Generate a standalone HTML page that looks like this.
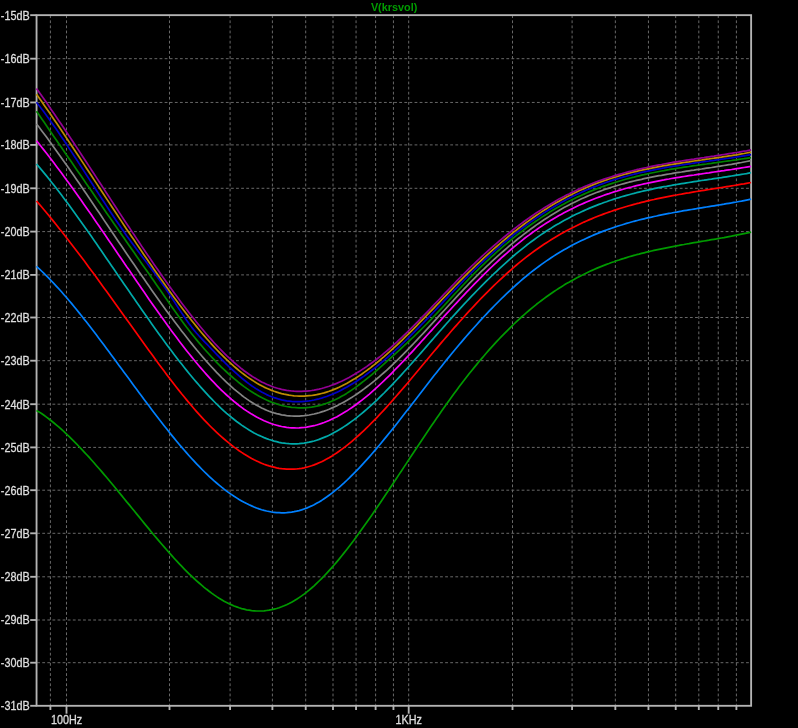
<!DOCTYPE html>
<html><head><meta charset="utf-8"><title>V(krsvol)</title>
<style>html,body{margin:0;padding:0;background:#000;overflow:hidden}svg{display:block}text{font-family:"Liberation Sans",Arial,sans-serif;font-size:12px;fill:#dedede;stroke:#dedede;stroke-width:0.3px}</style></head><body>
<svg width="798" height="728" viewBox="0 0 798 728">
<rect width="798" height="728" fill="#000"/>
<g stroke="#686868" stroke-width="1" stroke-dasharray="2.8 2.3" fill="none">
<path d="M37.15,58.68 H750.13"/>
<path d="M37.15,102.45 H750.13"/>
<path d="M37.15,144.90 H750.13"/>
<path d="M37.15,188.30 H750.13"/>
<path d="M37.15,231.60 H750.13"/>
<path d="M37.15,274.90 H750.13"/>
<path d="M37.15,317.50 H750.13"/>
<path d="M37.15,360.70 H750.13"/>
<path d="M37.15,404.20 H750.13"/>
<path d="M37.15,447.40 H750.13"/>
<path d="M37.15,490.20 H750.13"/>
<path d="M37.15,533.30 H750.13"/>
<path d="M37.15,576.80 H750.13"/>
<path d="M37.15,620.00 H750.13"/>
<path d="M37.15,662.70 H750.13"/>
<path d="M50.40,15.25 V704.80"/>
<path d="M66.50,15.25 V704.80"/>
<path d="M169.50,15.25 V704.80"/>
<path d="M230.10,15.25 V704.80"/>
<path d="M272.40,15.25 V704.80"/>
<path d="M305.70,15.25 V704.80"/>
<path d="M333.00,15.25 V704.80"/>
<path d="M356.05,15.25 V704.80"/>
<path d="M375.60,15.25 V704.80"/>
<path d="M393.45,15.25 V704.80"/>
<path d="M408.70,15.25 V704.80"/>
<path d="M512.50,15.25 V704.80"/>
<path d="M572.10,15.25 V704.80"/>
<path d="M615.35,15.25 V704.80"/>
<path d="M648.45,15.25 V704.80"/>
<path d="M675.70,15.25 V704.80"/>
<path d="M698.80,15.25 V704.80"/>
<path d="M718.25,15.25 V704.80"/>
<path d="M736.40,15.25 V704.80"/>
</g>
<g stroke="#b4b4b4" stroke-width="1.85" fill="none">
<rect x="36.55" y="15.15" width="714.58" height="690.65"/>
<path d="M30.2,15.15 H36.55"/>
<path d="M30.2,58.68 H36.55"/>
<path d="M30.2,102.45 H36.55"/>
<path d="M30.2,144.90 H36.55"/>
<path d="M30.2,188.30 H36.55"/>
<path d="M30.2,231.60 H36.55"/>
<path d="M30.2,274.90 H36.55"/>
<path d="M30.2,317.50 H36.55"/>
<path d="M30.2,360.70 H36.55"/>
<path d="M30.2,404.20 H36.55"/>
<path d="M30.2,447.40 H36.55"/>
<path d="M30.2,490.20 H36.55"/>
<path d="M30.2,533.30 H36.55"/>
<path d="M30.2,576.80 H36.55"/>
<path d="M30.2,620.00 H36.55"/>
<path d="M30.2,662.70 H36.55"/>
<path d="M30.2,705.80 H36.55"/>
<path d="M50.40,705.8 V710.00"/>
<path d="M66.50,705.8 V713.70"/>
<path d="M169.50,705.8 V710.00"/>
<path d="M230.10,705.8 V710.00"/>
<path d="M272.40,705.8 V710.00"/>
<path d="M305.70,705.8 V710.00"/>
<path d="M333.00,705.8 V710.00"/>
<path d="M356.05,705.8 V710.00"/>
<path d="M375.60,705.8 V710.00"/>
<path d="M393.45,705.8 V710.00"/>
<path d="M408.70,705.8 V713.70"/>
<path d="M512.50,705.8 V710.00"/>
<path d="M572.10,705.8 V710.00"/>
<path d="M615.35,705.8 V710.00"/>
<path d="M648.45,705.8 V710.00"/>
<path d="M675.70,705.8 V710.00"/>
<path d="M698.80,705.8 V710.00"/>
<path d="M718.25,705.8 V710.00"/>
<path d="M736.40,705.8 V710.00"/>
</g>
<g fill="none" stroke-width="1.7" stroke-linejoin="round">
<path stroke="#009a00" d="M36.5,410.5 L39.0,411.9 L41.5,413.5 L44.0,415.3 L46.5,417.1 L49.0,419.0 L51.5,421.0 L54.0,423.0 L56.5,425.1 L59.0,427.2 L61.5,429.4 L64.0,431.7 L66.5,434.1 L69.0,436.4 L71.5,438.9 L74.0,441.4 L76.5,443.9 L79.0,446.5 L81.5,449.1 L84.0,451.8 L86.5,454.5 L89.0,457.2 L91.5,460.0 L94.0,462.8 L96.5,465.7 L99.0,468.5 L101.5,471.4 L104.0,474.4 L106.5,477.3 L109.0,480.3 L111.5,483.3 L114.0,486.3 L116.5,489.3 L119.0,492.4 L121.5,495.4 L124.0,498.5 L126.5,501.6 L129.1,504.6 L131.6,507.7 L134.1,510.8 L136.6,513.9 L139.1,516.9 L141.6,520.0 L144.1,523.1 L146.6,526.1 L149.1,529.1 L151.6,532.2 L154.1,535.2 L156.6,538.1 L159.1,541.1 L161.6,544.0 L164.1,546.9 L166.6,549.8 L169.1,552.6 L171.6,555.4 L174.1,558.2 L176.6,560.9 L179.1,563.6 L181.6,566.2 L184.1,568.8 L186.6,571.3 L189.1,573.8 L191.6,576.2 L194.1,578.5 L196.6,580.8 L199.1,583.0 L201.6,585.2 L204.1,587.3 L206.6,589.3 L209.1,591.2 L211.6,593.1 L214.1,594.9 L216.6,596.6 L219.1,598.2 L221.6,599.7 L224.1,601.2 L226.6,602.5 L229.1,603.8 L231.6,604.9 L234.1,606.0 L236.6,606.9 L239.1,607.8 L241.6,608.6 L244.1,609.2 L246.6,609.8 L249.1,610.2 L251.6,610.6 L254.1,610.8 L256.6,611.0 L259.1,611.0 L261.6,611.0 L264.1,610.8 L266.6,610.5 L269.1,610.2 L271.6,609.7 L274.1,609.1 L276.6,608.5 L279.1,607.7 L281.6,606.8 L284.1,605.8 L286.6,604.7 L289.1,603.5 L291.6,602.2 L294.1,600.8 L296.6,599.3 L299.1,597.6 L301.6,595.9 L304.1,594.1 L306.6,592.1 L309.1,590.1 L311.6,588.0 L314.1,585.8 L316.6,583.4 L319.1,581.0 L321.6,578.6 L324.1,576.0 L326.6,573.4 L329.1,570.6 L331.6,567.9 L334.1,565.0 L336.6,562.1 L339.1,559.1 L341.6,556.0 L344.1,552.9 L346.6,549.7 L349.1,546.5 L351.6,543.2 L354.1,539.9 L356.6,536.5 L359.1,533.1 L361.6,529.6 L364.1,526.1 L366.6,522.6 L369.1,519.0 L371.6,515.4 L374.1,511.8 L376.6,508.1 L379.1,504.4 L381.6,500.7 L384.1,497.0 L386.6,493.3 L389.1,489.5 L391.6,485.8 L394.1,482.0 L396.6,478.2 L399.1,474.4 L401.6,470.7 L404.1,466.9 L406.6,463.1 L409.1,459.3 L411.6,455.5 L414.1,451.7 L416.6,448.0 L419.1,444.2 L421.6,440.5 L424.1,436.7 L426.6,433.0 L429.1,429.3 L431.6,425.6 L434.1,422.0 L436.6,418.3 L439.1,414.7 L441.6,411.1 L444.1,407.5 L446.6,404.0 L449.1,400.5 L451.6,397.0 L454.1,393.6 L456.6,390.2 L459.1,386.8 L461.6,383.5 L464.1,380.3 L466.6,377.0 L469.1,373.8 L471.6,370.7 L474.1,367.6 L476.6,364.6 L479.1,361.5 L481.6,358.6 L484.1,355.7 L486.6,352.8 L489.1,349.9 L491.6,347.1 L494.1,344.4 L496.6,341.7 L499.1,339.0 L501.6,336.4 L504.1,333.8 L506.6,331.3 L509.1,328.8 L511.6,326.4 L514.0,324.0 L516.5,321.6 L519.0,319.3 L521.5,317.0 L524.0,314.8 L526.5,312.6 L529.0,310.5 L531.5,308.4 L534.0,306.3 L536.5,304.3 L539.0,302.4 L541.5,300.5 L544.0,298.6 L546.5,296.8 L549.0,295.0 L551.5,293.2 L554.0,291.5 L556.5,289.9 L559.0,288.2 L561.5,286.7 L564.0,285.1 L566.5,283.6 L569.0,282.2 L571.5,280.7 L574.0,279.4 L576.5,278.0 L579.0,276.7 L581.5,275.4 L584.0,274.2 L586.5,273.0 L589.0,271.8 L591.5,270.6 L594.0,269.5 L596.5,268.4 L599.0,267.4 L601.5,266.4 L604.0,265.4 L606.5,264.4 L609.0,263.5 L611.5,262.5 L614.0,261.7 L616.5,260.8 L619.0,260.0 L621.5,259.1 L624.0,258.4 L626.5,257.6 L629.0,256.8 L631.5,256.1 L634.0,255.4 L636.5,254.7 L639.0,254.1 L641.5,253.4 L644.0,252.8 L646.5,252.2 L649.0,251.6 L651.5,251.0 L654.0,250.4 L656.5,249.8 L659.0,249.3 L661.5,248.8 L664.0,248.3 L666.5,247.8 L669.0,247.3 L671.5,246.8 L674.0,246.3 L676.5,245.8 L679.0,245.4 L681.5,244.9 L684.0,244.5 L686.5,244.0 L689.0,243.6 L691.5,243.1 L694.0,242.7 L696.5,242.3 L699.0,241.9 L701.5,241.4 L704.0,241.0 L706.5,240.6 L709.0,240.2 L711.5,239.7 L714.0,239.3 L716.5,238.9 L719.0,238.4 L721.5,238.0 L724.0,237.6 L726.5,237.1 L729.0,236.6 L731.5,236.2 L734.0,235.7 L736.5,235.2 L739.0,234.7 L741.5,234.2 L744.0,233.7 L746.5,233.2 L751.1,232.2"/>
<path stroke="#0080ff" d="M36.5,266.4 L39.0,268.6 L41.5,271.0 L44.0,273.4 L46.5,275.9 L49.0,278.4 L51.5,281.0 L54.0,283.6 L56.5,286.3 L59.0,289.0 L61.5,291.8 L64.0,294.7 L66.5,297.5 L69.0,300.5 L71.5,303.4 L74.0,306.5 L76.5,309.5 L79.0,312.6 L81.5,315.7 L84.0,318.9 L86.5,322.1 L89.0,325.3 L91.5,328.5 L94.0,331.8 L96.5,335.1 L99.0,338.4 L101.5,341.7 L104.0,345.0 L106.5,348.4 L109.0,351.8 L111.5,355.2 L114.0,358.6 L116.5,362.0 L119.0,365.4 L121.5,368.8 L124.0,372.2 L126.5,375.6 L129.1,379.0 L131.6,382.5 L134.1,385.9 L136.6,389.3 L139.1,392.7 L141.6,396.0 L144.1,399.4 L146.6,402.8 L149.1,406.1 L151.6,409.4 L154.1,412.7 L156.6,416.0 L159.1,419.2 L161.6,422.5 L164.1,425.7 L166.6,428.8 L169.1,432.0 L171.6,435.1 L174.1,438.1 L176.6,441.2 L179.1,444.2 L181.6,447.1 L184.1,450.0 L186.6,452.9 L189.1,455.7 L191.6,458.5 L194.1,461.2 L196.6,463.8 L199.1,466.4 L201.6,469.0 L204.1,471.5 L206.6,473.9 L209.1,476.3 L211.6,478.6 L214.1,480.9 L216.6,483.0 L219.1,485.1 L221.6,487.2 L224.1,489.2 L226.6,491.1 L229.1,492.9 L231.6,494.6 L234.1,496.3 L236.6,497.9 L239.1,499.5 L241.6,500.9 L244.1,502.3 L246.6,503.6 L249.1,504.8 L251.6,505.9 L254.1,507.0 L256.6,508.0 L259.1,508.9 L261.6,509.7 L264.1,510.4 L266.6,511.0 L269.1,511.5 L271.6,512.0 L274.1,512.3 L276.6,512.6 L279.1,512.7 L281.6,512.8 L284.1,512.8 L286.6,512.7 L289.1,512.4 L291.6,512.1 L294.1,511.7 L296.6,511.2 L299.1,510.6 L301.6,509.9 L304.1,509.0 L306.6,508.1 L309.1,507.0 L311.6,505.9 L314.1,504.7 L316.6,503.3 L319.1,501.9 L321.6,500.4 L324.1,498.7 L326.6,497.0 L329.1,495.2 L331.6,493.4 L334.1,491.4 L336.6,489.4 L339.1,487.3 L341.6,485.1 L344.1,482.9 L346.6,480.5 L349.1,478.2 L351.6,475.7 L354.1,473.2 L356.6,470.7 L359.1,468.1 L361.6,465.4 L364.1,462.7 L366.6,459.9 L369.1,457.1 L371.6,454.3 L374.1,451.4 L376.6,448.4 L379.1,445.5 L381.6,442.5 L384.1,439.4 L386.6,436.4 L389.1,433.3 L391.6,430.2 L394.1,427.1 L396.6,423.9 L399.1,420.7 L401.6,417.5 L404.1,414.3 L406.6,411.1 L409.1,407.9 L411.6,404.7 L414.1,401.4 L416.6,398.2 L419.1,395.0 L421.6,391.7 L424.1,388.5 L426.6,385.3 L429.1,382.0 L431.6,378.8 L434.1,375.6 L436.6,372.5 L439.1,369.3 L441.6,366.2 L444.1,363.0 L446.6,359.9 L449.1,356.9 L451.6,353.8 L454.1,350.8 L456.6,347.8 L459.1,344.8 L461.6,341.9 L464.1,338.9 L466.6,336.0 L469.1,333.1 L471.6,330.3 L474.1,327.5 L476.6,324.7 L479.1,321.9 L481.6,319.2 L484.1,316.5 L486.6,313.8 L489.1,311.2 L491.6,308.6 L494.1,306.0 L496.6,303.5 L499.1,301.0 L501.6,298.5 L504.1,296.1 L506.6,293.7 L509.1,291.4 L511.6,289.0 L514.0,286.8 L516.5,284.5 L519.0,282.3 L521.5,280.2 L524.0,278.0 L526.5,276.0 L529.0,273.9 L531.5,271.9 L534.0,270.0 L536.5,268.1 L539.0,266.2 L541.5,264.4 L544.0,262.6 L546.5,260.9 L549.0,259.2 L551.5,257.5 L554.0,255.9 L556.5,254.3 L559.0,252.8 L561.5,251.3 L564.0,249.8 L566.5,248.4 L569.0,247.0 L571.5,245.6 L574.0,244.3 L576.5,243.0 L579.0,241.8 L581.5,240.6 L584.0,239.4 L586.5,238.2 L589.0,237.1 L591.5,236.0 L594.0,234.9 L596.5,233.9 L599.0,232.9 L601.5,231.9 L604.0,230.9 L606.5,230.0 L609.0,229.1 L611.5,228.2 L614.0,227.4 L616.5,226.5 L619.0,225.7 L621.5,225.0 L624.0,224.2 L626.5,223.4 L629.0,222.7 L631.5,222.0 L634.0,221.3 L636.5,220.7 L639.0,220.0 L641.5,219.4 L644.0,218.8 L646.5,218.2 L649.0,217.6 L651.5,217.1 L654.0,216.5 L656.5,216.0 L659.0,215.4 L661.5,214.9 L664.0,214.4 L666.5,213.9 L669.0,213.4 L671.5,213.0 L674.0,212.5 L676.5,212.1 L679.0,211.6 L681.5,211.2 L684.0,210.7 L686.5,210.3 L689.0,209.9 L691.5,209.5 L694.0,209.1 L696.5,208.7 L699.0,208.2 L701.5,207.8 L704.0,207.4 L706.5,207.0 L709.0,206.6 L711.5,206.2 L714.0,205.8 L716.5,205.4 L719.0,205.0 L721.5,204.6 L724.0,204.2 L726.5,203.7 L729.0,203.3 L731.5,202.9 L734.0,202.4 L736.5,202.0 L739.0,201.5 L741.5,201.1 L744.0,200.6 L746.5,200.1 L751.1,199.2"/>
<path stroke="#ff0000" d="M36.5,201.0 L39.0,203.9 L41.5,206.8 L44.0,209.8 L46.5,212.8 L49.0,215.8 L51.5,218.9 L54.0,221.9 L56.5,225.0 L59.0,228.2 L61.5,231.3 L64.0,234.5 L66.5,237.7 L69.0,240.9 L71.5,244.2 L74.0,247.4 L76.5,250.7 L79.0,254.0 L81.5,257.3 L84.0,260.6 L86.5,264.0 L89.0,267.4 L91.5,270.7 L94.0,274.1 L96.5,277.6 L99.0,281.0 L101.5,284.4 L104.0,287.9 L106.5,291.3 L109.0,294.8 L111.5,298.2 L114.0,301.7 L116.5,305.2 L119.0,308.7 L121.5,312.2 L124.0,315.7 L126.5,319.2 L129.1,322.7 L131.6,326.2 L134.1,329.7 L136.6,333.2 L139.1,336.7 L141.6,340.2 L144.1,343.7 L146.6,347.2 L149.1,350.7 L151.6,354.1 L154.1,357.6 L156.6,361.0 L159.1,364.4 L161.6,367.8 L164.1,371.1 L166.6,374.5 L169.1,377.8 L171.6,381.0 L174.1,384.3 L176.6,387.5 L179.1,390.6 L181.6,393.8 L184.1,396.8 L186.6,399.9 L189.1,402.9 L191.6,405.8 L194.1,408.7 L196.6,411.6 L199.1,414.4 L201.6,417.1 L204.1,419.8 L206.6,422.4 L209.1,425.0 L211.6,427.5 L214.1,429.9 L216.6,432.3 L219.1,434.6 L221.6,436.8 L224.1,439.0 L226.6,441.1 L229.1,443.2 L231.6,445.2 L234.1,447.1 L236.6,448.9 L239.1,450.7 L241.6,452.4 L244.1,454.0 L246.6,455.5 L249.1,457.0 L251.6,458.4 L254.1,459.7 L256.6,460.9 L259.1,462.1 L261.6,463.2 L264.1,464.2 L266.6,465.1 L269.1,465.9 L271.6,466.6 L274.1,467.2 L276.6,467.8 L279.1,468.3 L281.6,468.7 L284.1,468.9 L286.6,469.1 L289.1,469.2 L291.6,469.2 L294.1,469.1 L296.6,469.0 L299.1,468.7 L301.6,468.3 L304.1,467.8 L306.6,467.2 L309.1,466.5 L311.6,465.8 L314.1,464.9 L316.6,463.9 L319.1,462.8 L321.6,461.7 L324.1,460.4 L326.6,459.1 L329.1,457.7 L331.6,456.2 L334.1,454.6 L336.6,453.0 L339.1,451.2 L341.6,449.4 L344.1,447.6 L346.6,445.6 L349.1,443.6 L351.6,441.6 L354.1,439.4 L356.6,437.2 L359.1,435.0 L361.6,432.7 L364.1,430.3 L366.6,427.9 L369.1,425.5 L371.6,422.9 L374.1,420.4 L376.6,417.8 L379.1,415.2 L381.6,412.5 L384.1,409.8 L386.6,407.1 L389.1,404.3 L391.6,401.5 L394.1,398.6 L396.6,395.8 L399.1,392.9 L401.6,390.0 L404.1,387.1 L406.6,384.2 L409.1,381.2 L411.6,378.2 L414.1,375.3 L416.6,372.3 L419.1,369.3 L421.6,366.3 L424.1,363.3 L426.6,360.3 L429.1,357.3 L431.6,354.3 L434.1,351.3 L436.6,348.4 L439.1,345.4 L441.6,342.4 L444.1,339.5 L446.6,336.6 L449.1,333.7 L451.6,330.8 L454.1,327.9 L456.6,325.1 L459.1,322.3 L461.6,319.5 L464.1,316.7 L466.6,313.9 L469.1,311.2 L471.6,308.5 L474.1,305.8 L476.6,303.2 L479.1,300.5 L481.6,297.9 L484.1,295.4 L486.6,292.8 L489.1,290.3 L491.6,287.9 L494.1,285.4 L496.6,283.0 L499.1,280.6 L501.6,278.3 L504.1,276.0 L506.6,273.7 L509.1,271.5 L511.6,269.3 L514.0,267.1 L516.5,265.0 L519.0,262.9 L521.5,260.9 L524.0,258.9 L526.5,256.9 L529.0,255.0 L531.5,253.1 L534.0,251.3 L536.5,249.5 L539.0,247.7 L541.5,246.0 L544.0,244.3 L546.5,242.7 L549.0,241.1 L551.5,239.5 L554.0,238.0 L556.5,236.5 L559.0,235.0 L561.5,233.6 L564.0,232.2 L566.5,230.8 L569.0,229.5 L571.5,228.2 L574.0,226.9 L576.5,225.7 L579.0,224.5 L581.5,223.3 L584.0,222.1 L586.5,221.0 L589.0,219.9 L591.5,218.9 L594.0,217.8 L596.5,216.8 L599.0,215.8 L601.5,214.9 L604.0,213.9 L606.5,213.0 L609.0,212.1 L611.5,211.3 L614.0,210.4 L616.5,209.6 L619.0,208.8 L621.5,208.0 L624.0,207.2 L626.5,206.5 L629.0,205.8 L631.5,205.1 L634.0,204.4 L636.5,203.7 L639.0,203.1 L641.5,202.4 L644.0,201.8 L646.5,201.2 L649.0,200.6 L651.5,200.0 L654.0,199.5 L656.5,198.9 L659.0,198.4 L661.5,197.9 L664.0,197.4 L666.5,196.9 L669.0,196.4 L671.5,195.9 L674.0,195.4 L676.5,195.0 L679.0,194.5 L681.5,194.1 L684.0,193.6 L686.5,193.2 L689.0,192.8 L691.5,192.3 L694.0,191.9 L696.5,191.5 L699.0,191.1 L701.5,190.7 L704.0,190.3 L706.5,189.9 L709.0,189.5 L711.5,189.1 L714.0,188.7 L716.5,188.3 L719.0,187.9 L721.5,187.5 L724.0,187.1 L726.5,186.7 L729.0,186.3 L731.5,185.9 L734.0,185.5 L736.5,185.1 L739.0,184.6 L741.5,184.2 L744.0,183.8 L746.5,183.3 L751.1,182.5"/>
<path stroke="#00aaaa" d="M36.5,164.0 L39.0,166.9 L41.5,169.9 L44.0,172.9 L46.5,175.9 L49.0,179.0 L51.5,182.2 L54.0,185.3 L56.5,188.6 L59.0,191.8 L61.5,195.1 L64.0,198.4 L66.5,201.8 L69.0,205.1 L71.5,208.5 L74.0,212.0 L76.5,215.4 L79.0,218.9 L81.5,222.4 L84.0,225.9 L86.5,229.5 L89.0,233.0 L91.5,236.6 L94.0,240.2 L96.5,243.8 L99.0,247.4 L101.5,251.1 L104.0,254.7 L106.5,258.4 L109.0,262.0 L111.5,265.7 L114.0,269.3 L116.5,273.0 L119.0,276.7 L121.5,280.3 L124.0,284.0 L126.5,287.6 L129.1,291.3 L131.6,294.9 L134.1,298.6 L136.6,302.2 L139.1,305.8 L141.6,309.4 L144.1,313.0 L146.6,316.6 L149.1,320.1 L151.6,323.7 L154.1,327.2 L156.6,330.7 L159.1,334.2 L161.6,337.6 L164.1,341.0 L166.6,344.4 L169.1,347.8 L171.6,351.1 L174.1,354.4 L176.6,357.7 L179.1,360.9 L181.6,364.1 L184.1,367.3 L186.6,370.4 L189.1,373.5 L191.6,376.5 L194.1,379.5 L196.6,382.4 L199.1,385.3 L201.6,388.1 L204.1,390.9 L206.6,393.6 L209.1,396.3 L211.6,398.9 L214.1,401.5 L216.6,404.0 L219.1,406.4 L221.6,408.8 L224.1,411.1 L226.6,413.3 L229.1,415.4 L231.6,417.5 L234.1,419.5 L236.6,421.5 L239.1,423.3 L241.6,425.1 L244.1,426.8 L246.6,428.4 L249.1,430.0 L251.6,431.5 L254.1,432.9 L256.6,434.2 L259.1,435.4 L261.6,436.5 L264.1,437.6 L266.6,438.6 L269.1,439.5 L271.6,440.3 L274.1,441.1 L276.6,441.7 L279.1,442.3 L281.6,442.8 L284.1,443.1 L286.6,443.5 L289.1,443.7 L291.6,443.8 L294.1,443.9 L296.6,443.8 L299.1,443.7 L301.6,443.4 L304.1,443.1 L306.6,442.7 L309.1,442.2 L311.6,441.6 L314.1,441.0 L316.6,440.2 L319.1,439.4 L321.6,438.4 L324.1,437.4 L326.6,436.4 L329.1,435.2 L331.6,433.9 L334.1,432.6 L336.6,431.2 L339.1,429.8 L341.6,428.2 L344.1,426.6 L346.6,425.0 L349.1,423.2 L351.6,421.4 L354.1,419.6 L356.6,417.7 L359.1,415.7 L361.6,413.6 L364.1,411.5 L366.6,409.4 L369.1,407.2 L371.6,404.9 L374.1,402.6 L376.6,400.3 L379.1,397.9 L381.6,395.4 L384.1,393.0 L386.6,390.4 L389.1,387.9 L391.6,385.3 L394.1,382.6 L396.6,380.0 L399.1,377.3 L401.6,374.6 L404.1,371.8 L406.6,369.1 L409.1,366.3 L411.6,363.5 L414.1,360.6 L416.6,357.8 L419.1,355.0 L421.6,352.1 L424.1,349.2 L426.6,346.4 L429.1,343.5 L431.6,340.6 L434.1,337.8 L436.6,334.9 L439.1,332.0 L441.6,329.2 L444.1,326.4 L446.6,323.5 L449.1,320.7 L451.6,317.9 L454.1,315.1 L456.6,312.4 L459.1,309.6 L461.6,306.9 L464.1,304.2 L466.6,301.5 L469.1,298.9 L471.6,296.2 L474.1,293.6 L476.6,291.0 L479.1,288.5 L481.6,285.9 L484.1,283.4 L486.6,280.9 L489.1,278.5 L491.6,276.0 L494.1,273.6 L496.6,271.3 L499.1,268.9 L501.6,266.6 L504.1,264.3 L506.6,262.1 L509.1,259.9 L511.6,257.7 L514.0,255.5 L516.5,253.4 L519.0,251.3 L521.5,249.3 L524.0,247.3 L526.5,245.3 L529.0,243.4 L531.5,241.5 L534.0,239.7 L536.5,237.9 L539.0,236.1 L541.5,234.4 L544.0,232.7 L546.5,231.0 L549.0,229.4 L551.5,227.9 L554.0,226.3 L556.5,224.8 L559.0,223.4 L561.5,221.9 L564.0,220.5 L566.5,219.2 L569.0,217.9 L571.5,216.6 L574.0,215.3 L576.5,214.1 L579.0,212.9 L581.5,211.7 L584.0,210.6 L586.5,209.5 L589.0,208.4 L591.5,207.4 L594.0,206.4 L596.5,205.4 L599.0,204.4 L601.5,203.5 L604.0,202.5 L606.5,201.7 L609.0,200.8 L611.5,200.0 L614.0,199.1 L616.5,198.3 L619.0,197.6 L621.5,196.8 L624.0,196.1 L626.5,195.4 L629.0,194.7 L631.5,194.0 L634.0,193.4 L636.5,192.7 L639.0,192.1 L641.5,191.5 L644.0,190.9 L646.5,190.3 L649.0,189.8 L651.5,189.3 L654.0,188.7 L656.5,188.2 L659.0,187.7 L661.5,187.2 L664.0,186.7 L666.5,186.3 L669.0,185.8 L671.5,185.4 L674.0,184.9 L676.5,184.5 L679.0,184.1 L681.5,183.7 L684.0,183.3 L686.5,182.9 L689.0,182.5 L691.5,182.1 L694.0,181.7 L696.5,181.3 L699.0,180.9 L701.5,180.5 L704.0,180.2 L706.5,179.8 L709.0,179.4 L711.5,179.1 L714.0,178.7 L716.5,178.3 L719.0,177.9 L721.5,177.6 L724.0,177.2 L726.5,176.8 L729.0,176.4 L731.5,176.0 L734.0,175.6 L736.5,175.2 L739.0,174.8 L741.5,174.4 L744.0,174.0 L746.5,173.6 L751.1,172.7"/>
<path stroke="#f800f8" d="M36.5,140.8 L39.0,143.8 L41.5,147.0 L44.0,150.1 L46.5,153.3 L49.0,156.5 L51.5,159.8 L54.0,163.1 L56.5,166.4 L59.0,169.7 L61.5,173.1 L64.0,176.5 L66.5,179.9 L69.0,183.3 L71.5,186.8 L74.0,190.3 L76.5,193.8 L79.0,197.3 L81.5,200.8 L84.0,204.4 L86.5,208.0 L89.0,211.5 L91.5,215.1 L94.0,218.8 L96.5,222.4 L99.0,226.0 L101.5,229.7 L104.0,233.3 L106.5,237.0 L109.0,240.7 L111.5,244.3 L114.0,248.0 L116.5,251.7 L119.0,255.4 L121.5,259.1 L124.0,262.8 L126.5,266.5 L129.1,270.1 L131.6,273.8 L134.1,277.5 L136.6,281.2 L139.1,284.8 L141.6,288.5 L144.1,292.1 L146.6,295.7 L149.1,299.4 L151.6,302.9 L154.1,306.5 L156.6,310.1 L159.1,313.6 L161.6,317.1 L164.1,320.6 L166.6,324.1 L169.1,327.5 L171.6,330.9 L174.1,334.3 L176.6,337.6 L179.1,340.9 L181.6,344.2 L184.1,347.5 L186.6,350.7 L189.1,353.8 L191.6,356.9 L194.1,360.0 L196.6,363.0 L199.1,366.0 L201.6,368.9 L204.1,371.8 L206.6,374.6 L209.1,377.4 L211.6,380.1 L214.1,382.7 L216.6,385.3 L219.1,387.8 L221.6,390.3 L224.1,392.7 L226.6,395.0 L229.1,397.2 L231.6,399.4 L234.1,401.5 L236.6,403.5 L239.1,405.5 L241.6,407.4 L244.1,409.2 L246.6,410.9 L249.1,412.5 L251.6,414.1 L254.1,415.6 L256.6,417.0 L259.1,418.3 L261.6,419.5 L264.1,420.7 L266.6,421.8 L269.1,422.8 L271.6,423.7 L274.1,424.5 L276.6,425.2 L279.1,425.9 L281.6,426.5 L284.1,426.9 L286.6,427.3 L289.1,427.6 L291.6,427.8 L294.1,427.9 L296.6,428.0 L299.1,427.9 L301.6,427.7 L304.1,427.5 L306.6,427.2 L309.1,426.7 L311.6,426.2 L314.1,425.7 L316.6,425.0 L319.1,424.2 L321.6,423.4 L324.1,422.5 L326.6,421.5 L329.1,420.5 L331.6,419.3 L334.1,418.1 L336.6,416.9 L339.1,415.5 L341.6,414.1 L344.1,412.6 L346.6,411.1 L349.1,409.4 L351.6,407.8 L354.1,406.0 L356.6,404.2 L359.1,402.3 L361.6,400.4 L364.1,398.4 L366.6,396.4 L369.1,394.3 L371.6,392.1 L374.1,389.9 L376.6,387.7 L379.1,385.4 L381.6,383.0 L384.1,380.6 L386.6,378.2 L389.1,375.8 L391.6,373.3 L394.1,370.7 L396.6,368.2 L399.1,365.6 L401.6,363.0 L404.1,360.3 L406.6,357.7 L409.1,355.0 L411.6,352.3 L414.1,349.6 L416.6,346.8 L419.1,344.1 L421.6,341.3 L424.1,338.6 L426.6,335.8 L429.1,333.0 L431.6,330.3 L434.1,327.5 L436.6,324.7 L439.1,322.0 L441.6,319.2 L444.1,316.4 L446.6,313.7 L449.1,311.0 L451.6,308.2 L454.1,305.5 L456.6,302.8 L459.1,300.1 L461.6,297.5 L464.1,294.8 L466.6,292.2 L469.1,289.6 L471.6,287.0 L474.1,284.4 L476.6,281.8 L479.1,279.3 L481.6,276.8 L484.1,274.3 L486.6,271.9 L489.1,269.4 L491.6,267.0 L494.1,264.7 L496.6,262.3 L499.1,260.0 L501.6,257.7 L504.1,255.5 L506.6,253.3 L509.1,251.1 L511.6,249.0 L514.0,246.9 L516.5,244.8 L519.0,242.8 L521.5,240.8 L524.0,238.8 L526.5,236.9 L529.0,235.1 L531.5,233.2 L534.0,231.4 L536.5,229.7 L539.0,227.9 L541.5,226.3 L544.0,224.6 L546.5,223.0 L549.0,221.5 L551.5,219.9 L554.0,218.4 L556.5,217.0 L559.0,215.5 L561.5,214.2 L564.0,212.8 L566.5,211.5 L569.0,210.2 L571.5,208.9 L574.0,207.7 L576.5,206.5 L579.0,205.3 L581.5,204.2 L584.0,203.1 L586.5,202.0 L589.0,201.0 L591.5,200.0 L594.0,199.0 L596.5,198.0 L599.0,197.1 L601.5,196.2 L604.0,195.3 L606.5,194.4 L609.0,193.6 L611.5,192.7 L614.0,191.9 L616.5,191.2 L619.0,190.4 L621.5,189.7 L624.0,189.0 L626.5,188.3 L629.0,187.6 L631.5,187.0 L634.0,186.3 L636.5,185.7 L639.0,185.1 L641.5,184.5 L644.0,183.9 L646.5,183.4 L649.0,182.8 L651.5,182.3 L654.0,181.8 L656.5,181.3 L659.0,180.8 L661.5,180.3 L664.0,179.9 L666.5,179.4 L669.0,179.0 L671.5,178.5 L674.0,178.1 L676.5,177.7 L679.0,177.3 L681.5,176.9 L684.0,176.5 L686.5,176.1 L689.0,175.7 L691.5,175.3 L694.0,175.0 L696.5,174.6 L699.0,174.2 L701.5,173.9 L704.0,173.5 L706.5,173.1 L709.0,172.8 L711.5,172.4 L714.0,172.0 L716.5,171.7 L719.0,171.3 L721.5,170.9 L724.0,170.6 L726.5,170.2 L729.0,169.8 L731.5,169.5 L734.0,169.1 L736.5,168.7 L739.0,168.3 L741.5,167.9 L744.0,167.5 L746.5,167.1 L751.1,166.3"/>
<path stroke="#848484" d="M36.5,123.9 L39.0,127.1 L41.5,130.4 L44.0,133.7 L46.5,137.1 L49.0,140.5 L51.5,144.0 L54.0,147.4 L56.5,150.9 L59.0,154.4 L61.5,157.9 L64.0,161.5 L66.5,165.0 L69.0,168.6 L71.5,172.2 L74.0,175.8 L76.5,179.5 L79.0,183.1 L81.5,186.8 L84.0,190.4 L86.5,194.1 L89.0,197.8 L91.5,201.5 L94.0,205.2 L96.5,208.9 L99.0,212.6 L101.5,216.3 L104.0,220.1 L106.5,223.8 L109.0,227.5 L111.5,231.2 L114.0,235.0 L116.5,238.7 L119.0,242.4 L121.5,246.1 L124.0,249.8 L126.5,253.5 L129.1,257.2 L131.6,260.9 L134.1,264.6 L136.6,268.2 L139.1,271.9 L141.6,275.5 L144.1,279.1 L146.6,282.7 L149.1,286.3 L151.6,289.9 L154.1,293.4 L156.6,297.0 L159.1,300.5 L161.6,304.0 L164.1,307.4 L166.6,310.9 L169.1,314.3 L171.6,317.6 L174.1,321.0 L176.6,324.3 L179.1,327.6 L181.6,330.9 L184.1,334.1 L186.6,337.3 L189.1,340.5 L191.6,343.6 L194.1,346.7 L196.6,349.8 L199.1,352.7 L201.6,355.7 L204.1,358.6 L206.6,361.5 L209.1,364.3 L211.6,367.0 L214.1,369.7 L216.6,372.4 L219.1,374.9 L221.6,377.5 L224.1,379.9 L226.6,382.3 L229.1,384.6 L231.6,386.9 L234.1,389.1 L236.6,391.2 L239.1,393.2 L241.6,395.2 L244.1,397.1 L246.6,398.9 L249.1,400.6 L251.6,402.2 L254.1,403.8 L256.6,405.2 L259.1,406.6 L261.6,407.9 L264.1,409.1 L266.6,410.2 L269.1,411.2 L271.6,412.1 L274.1,412.9 L276.6,413.6 L279.1,414.2 L281.6,414.8 L284.1,415.2 L286.6,415.6 L289.1,415.8 L291.6,416.0 L294.1,416.1 L296.6,416.1 L299.1,416.1 L301.6,415.9 L304.1,415.7 L306.6,415.4 L309.1,415.0 L311.6,414.5 L314.1,414.0 L316.6,413.4 L319.1,412.7 L321.6,411.9 L324.1,411.1 L326.6,410.2 L329.1,409.2 L331.6,408.1 L334.1,407.0 L336.6,405.9 L339.1,404.6 L341.6,403.3 L344.1,401.9 L346.6,400.5 L349.1,399.0 L351.6,397.5 L354.1,395.9 L356.6,394.2 L359.1,392.5 L361.6,390.7 L364.1,388.9 L366.6,387.0 L369.1,385.1 L371.6,383.1 L374.1,381.1 L376.6,379.0 L379.1,376.9 L381.6,374.7 L384.1,372.5 L386.6,370.3 L389.1,368.0 L391.6,365.6 L394.1,363.2 L396.6,360.8 L399.1,358.4 L401.6,355.9 L404.1,353.4 L406.6,350.8 L409.1,348.2 L411.6,345.6 L414.1,343.0 L416.6,340.4 L419.1,337.7 L421.6,335.0 L424.1,332.3 L426.6,329.6 L429.1,326.9 L431.6,324.2 L434.1,321.4 L436.6,318.7 L439.1,315.9 L441.6,313.2 L444.1,310.5 L446.6,307.7 L449.1,305.0 L451.6,302.3 L454.1,299.6 L456.6,296.9 L459.1,294.2 L461.6,291.6 L464.1,288.9 L466.6,286.3 L469.1,283.7 L471.6,281.2 L474.1,278.7 L476.6,276.1 L479.1,273.7 L481.6,271.2 L484.1,268.8 L486.6,266.4 L489.1,264.1 L491.6,261.7 L494.1,259.4 L496.6,257.1 L499.1,254.9 L501.6,252.7 L504.1,250.5 L506.6,248.3 L509.1,246.2 L511.6,244.1 L514.0,242.1 L516.5,240.0 L519.0,238.0 L521.5,236.1 L524.0,234.1 L526.5,232.2 L529.0,230.4 L531.5,228.5 L534.0,226.7 L536.5,224.9 L539.0,223.2 L541.5,221.5 L544.0,219.8 L546.5,218.2 L549.0,216.6 L551.5,215.0 L554.0,213.5 L556.5,212.0 L559.0,210.5 L561.5,209.0 L564.0,207.6 L566.5,206.3 L569.0,204.9 L571.5,203.6 L574.0,202.4 L576.5,201.2 L579.0,200.0 L581.5,198.8 L584.0,197.7 L586.5,196.6 L589.0,195.5 L591.5,194.5 L594.0,193.5 L596.5,192.5 L599.0,191.6 L601.5,190.7 L604.0,189.8 L606.5,188.9 L609.0,188.1 L611.5,187.3 L614.0,186.5 L616.5,185.7 L619.0,185.0 L621.5,184.3 L624.0,183.6 L626.5,182.9 L629.0,182.2 L631.5,181.6 L634.0,181.0 L636.5,180.4 L639.0,179.8 L641.5,179.3 L644.0,178.7 L646.5,178.2 L649.0,177.7 L651.5,177.2 L654.0,176.7 L656.5,176.2 L659.0,175.7 L661.5,175.3 L664.0,174.8 L666.5,174.4 L669.0,174.0 L671.5,173.6 L674.0,173.1 L676.5,172.7 L679.0,172.3 L681.5,172.0 L684.0,171.6 L686.5,171.2 L689.0,170.8 L691.5,170.4 L694.0,170.1 L696.5,169.7 L699.0,169.3 L701.5,169.0 L704.0,168.6 L706.5,168.2 L709.0,167.8 L711.5,167.5 L714.0,167.1 L716.5,166.7 L719.0,166.3 L721.5,165.9 L724.0,165.5 L726.5,165.1 L729.0,164.7 L731.5,164.3 L734.0,163.8 L736.5,163.4 L739.0,162.9 L741.5,162.5 L744.0,162.0 L746.5,161.5 L751.1,160.6"/>
<path stroke="#008400" d="M36.5,111.2 L39.0,114.8 L41.5,118.5 L44.0,122.1 L46.5,125.7 L49.0,129.4 L51.5,133.0 L54.0,136.7 L56.5,140.3 L59.0,143.9 L61.5,147.6 L64.0,151.2 L66.5,154.9 L69.0,158.5 L71.5,162.1 L74.0,165.8 L76.5,169.4 L79.0,173.0 L81.5,176.6 L84.0,180.3 L86.5,183.9 L89.0,187.5 L91.5,191.1 L94.0,194.8 L96.5,198.4 L99.0,202.0 L101.5,205.6 L104.0,209.2 L106.5,212.9 L109.0,216.5 L111.5,220.1 L114.0,223.7 L116.5,227.3 L119.0,230.9 L121.5,234.5 L124.0,238.1 L126.5,241.7 L129.1,245.4 L131.6,249.0 L134.1,252.6 L136.6,256.2 L139.1,259.8 L141.6,263.4 L144.1,267.0 L146.6,270.6 L149.1,274.1 L151.6,277.7 L154.1,281.3 L156.6,284.9 L159.1,288.5 L161.6,292.1 L164.1,295.7 L166.6,299.3 L169.1,302.9 L171.6,306.4 L174.1,310.0 L176.6,313.6 L179.1,317.1 L181.6,320.5 L184.1,323.9 L186.6,327.3 L189.1,330.5 L191.6,333.7 L194.1,336.8 L196.6,339.9 L199.1,342.9 L201.6,345.8 L204.1,348.7 L206.6,351.5 L209.1,354.3 L211.6,357.0 L214.1,359.7 L216.6,362.3 L219.1,364.8 L221.6,367.3 L224.1,369.7 L226.6,372.0 L229.1,374.3 L231.6,376.5 L234.1,378.7 L236.6,380.7 L239.1,382.8 L241.6,384.7 L244.1,386.6 L246.6,388.4 L249.1,390.1 L251.6,391.7 L254.1,393.3 L256.6,394.8 L259.1,396.2 L261.6,397.6 L264.1,398.8 L266.6,400.0 L269.1,401.1 L271.6,402.1 L274.1,403.0 L276.6,403.9 L279.1,404.7 L281.6,405.4 L284.1,406.0 L286.6,406.5 L289.1,406.9 L291.6,407.3 L294.1,407.5 L296.6,407.7 L299.1,407.8 L301.6,407.9 L304.1,407.8 L306.6,407.6 L309.1,407.4 L311.6,407.1 L314.1,406.7 L316.6,406.2 L319.1,405.6 L321.6,404.9 L324.1,404.1 L326.6,403.3 L329.1,402.4 L331.6,401.3 L334.1,400.2 L336.6,399.0 L339.1,397.7 L341.6,396.3 L344.1,394.9 L346.6,393.4 L349.1,391.8 L351.6,390.1 L354.1,388.4 L356.6,386.6 L359.1,384.7 L361.6,382.8 L364.1,380.9 L366.6,378.9 L369.1,376.9 L371.6,374.8 L374.1,372.7 L376.6,370.5 L379.1,368.3 L381.6,366.1 L384.1,363.9 L386.6,361.7 L389.1,359.4 L391.6,357.1 L394.1,354.9 L396.6,352.6 L399.1,350.3 L401.6,348.0 L404.1,345.7 L406.6,343.3 L409.1,341.0 L411.6,338.6 L414.1,336.3 L416.6,333.9 L419.1,331.4 L421.6,329.0 L424.1,326.5 L426.6,324.0 L429.1,321.4 L431.6,318.9 L434.1,316.2 L436.6,313.6 L439.1,310.9 L441.6,308.3 L444.1,305.6 L446.6,302.9 L449.1,300.2 L451.6,297.4 L454.1,294.7 L456.6,292.0 L459.1,289.3 L461.6,286.7 L464.1,284.0 L466.6,281.4 L469.1,278.7 L471.6,276.2 L474.1,273.6 L476.6,271.1 L479.1,268.6 L481.6,266.2 L484.1,263.8 L486.6,261.4 L489.1,259.1 L491.6,256.7 L494.1,254.5 L496.6,252.2 L499.1,250.0 L501.6,247.8 L504.1,245.7 L506.6,243.6 L509.1,241.5 L511.6,239.4 L514.0,237.4 L516.5,235.4 L519.0,233.5 L521.5,231.6 L524.0,229.7 L526.5,227.8 L529.0,226.0 L531.5,224.2 L534.0,222.5 L536.5,220.7 L539.0,219.1 L541.5,217.4 L544.0,215.8 L546.5,214.2 L549.0,212.6 L551.5,211.1 L554.0,209.6 L556.5,208.1 L559.0,206.7 L561.5,205.3 L564.0,203.9 L566.5,202.6 L569.0,201.3 L571.5,200.0 L574.0,198.8 L576.5,197.5 L579.0,196.4 L581.5,195.2 L584.0,194.1 L586.5,193.0 L589.0,191.9 L591.5,190.9 L594.0,189.9 L596.5,188.9 L599.0,188.0 L601.5,187.0 L604.0,186.1 L606.5,185.3 L609.0,184.4 L611.5,183.6 L614.0,182.8 L616.5,182.0 L619.0,181.2 L621.5,180.5 L624.0,179.7 L626.5,179.0 L629.0,178.4 L631.5,177.7 L634.0,177.1 L636.5,176.4 L639.0,175.8 L641.5,175.2 L644.0,174.7 L646.5,174.1 L649.0,173.5 L651.5,173.0 L654.0,172.5 L656.5,172.0 L659.0,171.5 L661.5,171.0 L664.0,170.6 L666.5,170.1 L669.0,169.7 L671.5,169.2 L674.0,168.8 L676.5,168.4 L679.0,168.0 L681.5,167.6 L684.0,167.2 L686.5,166.8 L689.0,166.5 L691.5,166.1 L694.0,165.7 L696.5,165.4 L699.0,165.0 L701.5,164.7 L704.0,164.3 L706.5,164.0 L709.0,163.6 L711.5,163.3 L714.0,162.9 L716.5,162.6 L719.0,162.2 L721.5,161.9 L724.0,161.5 L726.5,161.2 L729.0,160.8 L731.5,160.5 L734.0,160.1 L736.5,159.8 L739.0,159.4 L741.5,159.0 L744.0,158.7 L746.5,158.3 L751.1,157.6"/>
<path stroke="#0000c8" d="M36.5,102.3 L39.0,105.5 L41.5,108.8 L44.0,112.1 L46.5,115.5 L49.0,118.9 L51.5,122.4 L54.0,126.0 L56.5,129.6 L59.0,133.2 L61.5,136.9 L64.0,140.6 L66.5,144.3 L69.0,148.1 L71.5,151.9 L74.0,155.7 L76.5,159.5 L79.0,163.4 L81.5,167.2 L84.0,171.1 L86.5,175.0 L89.0,178.9 L91.5,182.7 L94.0,186.6 L96.5,190.5 L99.0,194.4 L101.5,198.2 L104.0,202.0 L106.5,205.9 L109.0,209.7 L111.5,213.4 L114.0,217.2 L116.5,220.9 L119.0,224.6 L121.5,228.2 L124.0,231.8 L126.5,235.4 L129.1,238.9 L131.6,242.4 L134.1,245.8 L136.6,249.2 L139.1,252.5 L141.6,255.9 L144.1,259.2 L146.6,262.5 L149.1,265.9 L151.6,269.2 L154.1,272.6 L156.6,276.0 L159.1,279.4 L161.6,282.9 L164.1,286.5 L166.6,290.1 L169.1,293.8 L171.6,297.5 L174.1,301.4 L176.6,305.2 L179.1,309.1 L181.6,312.9 L184.1,316.6 L186.6,320.3 L189.1,323.8 L191.6,327.1 L194.1,330.2 L196.6,333.2 L199.1,336.0 L201.6,338.6 L204.1,341.3 L206.6,343.9 L209.1,346.5 L211.6,349.1 L214.1,351.7 L216.6,354.3 L219.1,356.9 L221.6,359.4 L224.1,361.9 L226.6,364.3 L229.1,366.8 L231.6,369.1 L234.1,371.4 L236.6,373.7 L239.1,375.9 L241.6,378.0 L244.1,380.0 L246.6,382.0 L249.1,383.9 L251.6,385.7 L254.1,387.4 L256.6,389.1 L259.1,390.6 L261.6,392.0 L264.1,393.3 L266.6,394.6 L269.1,395.7 L271.6,396.7 L274.1,397.6 L276.6,398.4 L279.1,399.2 L281.6,399.8 L284.1,400.3 L286.6,400.8 L289.1,401.1 L291.6,401.4 L294.1,401.6 L296.6,401.7 L299.1,401.7 L301.6,401.6 L304.1,401.4 L306.6,401.2 L309.1,400.9 L311.6,400.5 L314.1,400.0 L316.6,399.4 L319.1,398.8 L321.6,398.1 L324.1,397.3 L326.6,396.5 L329.1,395.5 L331.6,394.5 L334.1,393.5 L336.6,392.4 L339.1,391.2 L341.6,389.9 L344.1,388.6 L346.6,387.3 L349.1,385.8 L351.6,384.3 L354.1,382.8 L356.6,381.2 L359.1,379.5 L361.6,377.8 L364.1,376.1 L366.6,374.3 L369.1,372.4 L371.6,370.5 L374.1,368.6 L376.6,366.6 L379.1,364.5 L381.6,362.4 L384.1,360.3 L386.6,358.2 L389.1,356.0 L391.6,353.7 L394.1,351.5 L396.6,349.1 L399.1,346.8 L401.6,344.4 L404.1,342.0 L406.6,339.6 L409.1,337.2 L411.6,334.7 L414.1,332.2 L416.6,329.7 L419.1,327.1 L421.6,324.5 L424.1,322.0 L426.6,319.4 L429.1,316.8 L431.6,314.1 L434.1,311.5 L436.6,308.9 L439.1,306.2 L441.6,303.6 L444.1,300.9 L446.6,298.3 L449.1,295.6 L451.6,293.0 L454.1,290.4 L456.6,287.8 L459.1,285.2 L461.6,282.6 L464.1,280.0 L466.6,277.5 L469.1,275.0 L471.6,272.5 L474.1,270.0 L476.6,267.6 L479.1,265.2 L481.6,262.8 L484.1,260.5 L486.6,258.1 L489.1,255.8 L491.6,253.6 L494.1,251.3 L496.6,249.1 L499.1,247.0 L501.6,244.8 L504.1,242.7 L506.6,240.6 L509.1,238.5 L511.6,236.5 L514.0,234.5 L516.5,232.5 L519.0,230.6 L521.5,228.7 L524.0,226.8 L526.5,225.0 L529.0,223.1 L531.5,221.4 L534.0,219.6 L536.5,217.9 L539.0,216.2 L541.5,214.5 L544.0,212.9 L546.5,211.3 L549.0,209.7 L551.5,208.2 L554.0,206.7 L556.5,205.2 L559.0,203.8 L561.5,202.3 L564.0,201.0 L566.5,199.6 L569.0,198.3 L571.5,197.0 L574.0,195.8 L576.5,194.6 L579.0,193.4 L581.5,192.2 L584.0,191.1 L586.5,190.0 L589.0,189.0 L591.5,187.9 L594.0,186.9 L596.5,186.0 L599.0,185.0 L601.5,184.1 L604.0,183.2 L606.5,182.3 L609.0,181.5 L611.5,180.6 L614.0,179.8 L616.5,179.1 L619.0,178.3 L621.5,177.6 L624.0,176.9 L626.5,176.2 L629.0,175.5 L631.5,174.9 L634.0,174.2 L636.5,173.6 L639.0,173.0 L641.5,172.4 L644.0,171.9 L646.5,171.3 L649.0,170.8 L651.5,170.3 L654.0,169.8 L656.5,169.3 L659.0,168.8 L661.5,168.3 L664.0,167.9 L666.5,167.4 L669.0,167.0 L671.5,166.6 L674.0,166.2 L676.5,165.8 L679.0,165.4 L681.5,165.0 L684.0,164.6 L686.5,164.2 L689.0,163.8 L691.5,163.5 L694.0,163.1 L696.5,162.7 L699.0,162.4 L701.5,162.0 L704.0,161.7 L706.5,161.3 L709.0,161.0 L711.5,160.6 L714.0,160.3 L716.5,159.9 L719.0,159.6 L721.5,159.2 L724.0,158.9 L726.5,158.5 L729.0,158.1 L731.5,157.8 L734.0,157.4 L736.5,157.0 L739.0,156.6 L741.5,156.2 L744.0,155.8 L746.5,155.4 L751.1,154.6"/>
<path stroke="#c08c00" d="M36.5,94.3 L39.0,97.7 L41.5,101.3 L44.0,104.9 L46.5,108.5 L49.0,112.1 L51.5,115.8 L54.0,119.4 L56.5,123.1 L59.0,126.8 L61.5,130.5 L64.0,134.2 L66.5,138.0 L69.0,141.7 L71.5,145.5 L74.0,149.2 L76.5,153.0 L79.0,156.8 L81.5,160.6 L84.0,164.4 L86.5,168.2 L89.0,172.0 L91.5,175.8 L94.0,179.6 L96.5,183.4 L99.0,187.2 L101.5,191.0 L104.0,194.8 L106.5,198.6 L109.0,202.4 L111.5,206.2 L114.0,210.0 L116.5,213.8 L119.0,217.6 L121.5,221.4 L124.0,225.2 L126.5,228.9 L129.1,232.7 L131.6,236.4 L134.1,240.1 L136.6,243.9 L139.1,247.6 L141.6,251.2 L144.1,254.9 L146.6,258.6 L149.1,262.2 L151.6,265.8 L154.1,269.4 L156.6,273.0 L159.1,276.6 L161.6,280.1 L164.1,283.6 L166.6,287.1 L169.1,290.6 L171.6,294.0 L174.1,297.4 L176.6,300.8 L179.1,304.2 L181.6,307.5 L184.1,310.8 L186.6,314.0 L189.1,317.2 L191.6,320.4 L194.1,323.5 L196.6,326.6 L199.1,329.7 L201.6,332.7 L204.1,335.6 L206.6,338.5 L209.1,341.3 L211.6,344.1 L214.1,346.8 L216.6,349.5 L219.1,352.1 L221.6,354.6 L224.1,357.1 L226.6,359.5 L229.1,361.9 L231.6,364.2 L234.1,366.4 L236.6,368.5 L239.1,370.6 L241.6,372.6 L244.1,374.5 L246.6,376.4 L249.1,378.1 L251.6,379.8 L254.1,381.4 L256.6,383.0 L259.1,384.4 L261.6,385.8 L264.1,387.1 L266.6,388.2 L269.1,389.3 L271.6,390.4 L274.1,391.3 L276.6,392.1 L279.1,392.9 L281.6,393.6 L284.1,394.2 L286.6,394.7 L289.1,395.2 L291.6,395.5 L294.1,395.8 L296.6,396.0 L299.1,396.1 L301.6,396.1 L304.1,396.1 L306.6,395.9 L309.1,395.7 L311.6,395.5 L314.1,395.1 L316.6,394.7 L319.1,394.1 L321.6,393.5 L324.1,392.9 L326.6,392.1 L329.1,391.3 L331.6,390.4 L334.1,389.4 L336.6,388.4 L339.1,387.3 L341.6,386.1 L344.1,384.8 L346.6,383.5 L349.1,382.1 L351.6,380.6 L354.1,379.1 L356.6,377.5 L359.1,375.9 L361.6,374.2 L364.1,372.4 L366.6,370.6 L369.1,368.8 L371.6,366.8 L374.1,364.9 L376.6,362.9 L379.1,360.8 L381.6,358.7 L384.1,356.6 L386.6,354.4 L389.1,352.2 L391.6,349.9 L394.1,347.6 L396.6,345.3 L399.1,343.0 L401.6,340.6 L404.1,338.2 L406.6,335.7 L409.1,333.3 L411.6,330.8 L414.1,328.3 L416.6,325.8 L419.1,323.2 L421.6,320.7 L424.1,318.1 L426.6,315.5 L429.1,312.9 L431.6,310.3 L434.1,307.8 L436.6,305.2 L439.1,302.6 L441.6,299.9 L444.1,297.4 L446.6,294.8 L449.1,292.2 L451.6,289.6 L454.1,287.0 L456.6,284.5 L459.1,281.9 L461.6,279.4 L464.1,276.9 L466.6,274.4 L469.1,271.9 L471.6,269.5 L474.1,267.1 L476.6,264.7 L479.1,262.3 L481.6,260.0 L484.1,257.7 L486.6,255.4 L489.1,253.1 L491.6,250.9 L494.1,248.6 L496.6,246.5 L499.1,244.3 L501.6,242.2 L504.1,240.1 L506.6,238.0 L509.1,235.9 L511.6,233.9 L514.0,231.9 L516.5,230.0 L519.0,228.0 L521.5,226.1 L524.0,224.2 L526.5,222.4 L529.0,220.6 L531.5,218.8 L534.0,217.0 L536.5,215.3 L539.0,213.6 L541.5,211.9 L544.0,210.3 L546.5,208.7 L549.0,207.1 L551.5,205.6 L554.0,204.1 L556.5,202.6 L559.0,201.2 L561.5,199.8 L564.0,198.4 L566.5,197.0 L569.0,195.7 L571.5,194.4 L574.0,193.2 L576.5,192.0 L579.0,190.8 L581.5,189.7 L584.0,188.6 L586.5,187.5 L589.0,186.4 L591.5,185.4 L594.0,184.4 L596.5,183.4 L599.0,182.5 L601.5,181.6 L604.0,180.7 L606.5,179.9 L609.0,179.0 L611.5,178.2 L614.0,177.4 L616.5,176.7 L619.0,175.9 L621.5,175.2 L624.0,174.5 L626.5,173.8 L629.0,173.2 L631.5,172.5 L634.0,171.9 L636.5,171.3 L639.0,170.7 L641.5,170.2 L644.0,169.6 L646.5,169.1 L649.0,168.6 L651.5,168.1 L654.0,167.6 L656.5,167.1 L659.0,166.6 L661.5,166.2 L664.0,165.7 L666.5,165.3 L669.0,164.9 L671.5,164.5 L674.0,164.1 L676.5,163.7 L679.0,163.3 L681.5,162.9 L684.0,162.5 L686.5,162.1 L689.0,161.8 L691.5,161.4 L694.0,161.0 L696.5,160.7 L699.0,160.3 L701.5,160.0 L704.0,159.6 L706.5,159.2 L709.0,158.9 L711.5,158.5 L714.0,158.2 L716.5,157.8 L719.0,157.4 L721.5,157.1 L724.0,156.7 L726.5,156.3 L729.0,155.9 L731.5,155.6 L734.0,155.2 L736.5,154.8 L739.0,154.3 L741.5,153.9 L744.0,153.5 L746.5,153.0 L751.1,152.2"/>
<path stroke="#940094" d="M36.5,88.5 L39.0,91.9 L41.5,95.5 L44.0,99.0 L46.5,102.6 L49.0,106.2 L51.5,109.9 L54.0,113.5 L56.5,117.2 L59.0,120.9 L61.5,124.6 L64.0,128.3 L66.5,132.0 L69.0,135.8 L71.5,139.5 L74.0,143.3 L76.5,147.1 L79.0,150.9 L81.5,154.7 L84.0,158.5 L86.5,162.3 L89.0,166.1 L91.5,170.0 L94.0,173.8 L96.5,177.6 L99.0,181.5 L101.5,185.3 L104.0,189.1 L106.5,193.0 L109.0,196.8 L111.5,200.6 L114.0,204.5 L116.5,208.3 L119.0,212.1 L121.5,215.9 L124.0,219.7 L126.5,223.5 L129.1,227.3 L131.6,231.1 L134.1,234.8 L136.6,238.6 L139.1,242.3 L141.6,246.1 L144.1,249.8 L146.6,253.5 L149.1,257.1 L151.6,260.8 L154.1,264.4 L156.6,268.0 L159.1,271.6 L161.6,275.2 L164.1,278.8 L166.6,282.3 L169.1,285.8 L171.6,289.3 L174.1,292.7 L176.6,296.1 L179.1,299.5 L181.6,302.9 L184.1,306.2 L186.6,309.5 L189.1,312.7 L191.6,315.9 L194.1,319.1 L196.6,322.2 L199.1,325.3 L201.6,328.3 L204.1,331.3 L206.6,334.2 L209.1,337.1 L211.6,339.9 L214.1,342.7 L216.6,345.4 L219.1,348.0 L221.6,350.6 L224.1,353.1 L226.6,355.6 L229.1,357.9 L231.6,360.2 L234.1,362.5 L236.6,364.6 L239.1,366.7 L241.6,368.8 L244.1,370.7 L246.6,372.5 L249.1,374.3 L251.6,376.0 L254.1,377.6 L256.6,379.1 L259.1,380.5 L261.6,381.9 L264.1,383.1 L266.6,384.3 L269.1,385.3 L271.6,386.3 L274.1,387.2 L276.6,388.0 L279.1,388.7 L281.6,389.3 L284.1,389.8 L286.6,390.3 L289.1,390.7 L291.6,391.0 L294.1,391.2 L296.6,391.3 L299.1,391.4 L301.6,391.3 L304.1,391.2 L306.6,391.1 L309.1,390.8 L311.6,390.5 L314.1,390.1 L316.6,389.6 L319.1,389.1 L321.6,388.5 L324.1,387.8 L326.6,387.0 L329.1,386.2 L331.6,385.3 L334.1,384.4 L336.6,383.4 L339.1,382.3 L341.6,381.2 L344.1,380.0 L346.6,378.7 L349.1,377.4 L351.6,376.0 L354.1,374.6 L356.6,373.1 L359.1,371.6 L361.6,369.9 L364.1,368.3 L366.6,366.6 L369.1,364.8 L371.6,363.0 L374.1,361.1 L376.6,359.2 L379.1,357.3 L381.6,355.3 L384.1,353.2 L386.6,351.1 L389.1,349.0 L391.6,346.8 L394.1,344.5 L396.6,342.3 L399.1,339.9 L401.6,337.6 L404.1,335.2 L406.6,332.8 L409.1,330.3 L411.6,327.9 L414.1,325.4 L416.6,322.8 L419.1,320.3 L421.6,317.7 L424.1,315.2 L426.6,312.6 L429.1,310.0 L431.6,307.4 L434.1,304.7 L436.6,302.1 L439.1,299.5 L441.6,296.9 L444.1,294.2 L446.6,291.6 L449.1,289.0 L451.6,286.4 L454.1,283.8 L456.6,281.2 L459.1,278.7 L461.6,276.1 L464.1,273.6 L466.6,271.1 L469.1,268.6 L471.6,266.2 L474.1,263.8 L476.6,261.4 L479.1,259.0 L481.6,256.7 L484.1,254.4 L486.6,252.1 L489.1,249.9 L491.6,247.6 L494.1,245.5 L496.6,243.3 L499.1,241.2 L501.6,239.1 L504.1,237.0 L506.6,235.0 L509.1,233.0 L511.6,231.0 L514.0,229.0 L516.5,227.1 L519.0,225.2 L521.5,223.4 L524.0,221.5 L526.5,219.7 L529.0,218.0 L531.5,216.2 L534.0,214.5 L536.5,212.8 L539.0,211.2 L541.5,209.6 L544.0,208.0 L546.5,206.4 L549.0,204.9 L551.5,203.4 L554.0,202.0 L556.5,200.5 L559.0,199.1 L561.5,197.8 L564.0,196.4 L566.5,195.1 L569.0,193.9 L571.5,192.6 L574.0,191.4 L576.5,190.2 L579.0,189.1 L581.5,188.0 L584.0,186.9 L586.5,185.8 L589.0,184.8 L591.5,183.8 L594.0,182.8 L596.5,181.8 L599.0,180.9 L601.5,180.0 L604.0,179.1 L606.5,178.3 L609.0,177.5 L611.5,176.7 L614.0,175.9 L616.5,175.1 L619.0,174.4 L621.5,173.7 L624.0,173.0 L626.5,172.3 L629.0,171.6 L631.5,171.0 L634.0,170.4 L636.5,169.7 L639.0,169.2 L641.5,168.6 L644.0,168.0 L646.5,167.5 L649.0,166.9 L651.5,166.4 L654.0,165.9 L656.5,165.4 L659.0,164.9 L661.5,164.5 L664.0,164.0 L666.5,163.5 L669.0,163.1 L671.5,162.7 L674.0,162.2 L676.5,161.8 L679.0,161.4 L681.5,161.0 L684.0,160.6 L686.5,160.2 L689.0,159.8 L691.5,159.4 L694.0,159.1 L696.5,158.7 L699.0,158.3 L701.5,157.9 L704.0,157.6 L706.5,157.2 L709.0,156.8 L711.5,156.4 L714.0,156.1 L716.5,155.7 L719.0,155.3 L721.5,154.9 L724.0,154.5 L726.5,154.1 L729.0,153.7 L731.5,153.3 L734.0,152.9 L736.5,152.5 L739.0,152.1 L741.5,151.6 L744.0,151.2 L746.5,150.8 L751.1,149.9"/>
</g>
<text transform="translate(29.6,19.50) scale(0.9,1)" text-anchor="end">-15dB</text>
<text transform="translate(29.6,63.03) scale(0.9,1)" text-anchor="end">-16dB</text>
<text transform="translate(29.6,106.80) scale(0.9,1)" text-anchor="end">-17dB</text>
<text transform="translate(29.6,149.25) scale(0.9,1)" text-anchor="end">-18dB</text>
<text transform="translate(29.6,192.65) scale(0.9,1)" text-anchor="end">-19dB</text>
<text transform="translate(29.6,235.95) scale(0.9,1)" text-anchor="end">-20dB</text>
<text transform="translate(29.6,279.25) scale(0.9,1)" text-anchor="end">-21dB</text>
<text transform="translate(29.6,321.85) scale(0.9,1)" text-anchor="end">-22dB</text>
<text transform="translate(29.6,365.05) scale(0.9,1)" text-anchor="end">-23dB</text>
<text transform="translate(29.6,408.55) scale(0.9,1)" text-anchor="end">-24dB</text>
<text transform="translate(29.6,451.75) scale(0.9,1)" text-anchor="end">-25dB</text>
<text transform="translate(29.6,494.55) scale(0.9,1)" text-anchor="end">-26dB</text>
<text transform="translate(29.6,537.65) scale(0.9,1)" text-anchor="end">-27dB</text>
<text transform="translate(29.6,581.15) scale(0.9,1)" text-anchor="end">-28dB</text>
<text transform="translate(29.6,624.35) scale(0.9,1)" text-anchor="end">-29dB</text>
<text transform="translate(29.6,667.05) scale(0.9,1)" text-anchor="end">-30dB</text>
<text transform="translate(29.6,710.15) scale(0.9,1)" text-anchor="end">-31dB</text>
<text transform="translate(66.50,723.7) scale(0.9,1)" text-anchor="middle">100Hz</text>
<text transform="translate(408.70,723.7) scale(0.9,1)" text-anchor="middle">1KHz</text>
<text transform="translate(394.1,10.75) scale(0.945,1)" text-anchor="middle" style="fill:#009c00;stroke:none;font-weight:bold;font-size:11.5px">V(krsvol)</text>
</svg></body></html>
